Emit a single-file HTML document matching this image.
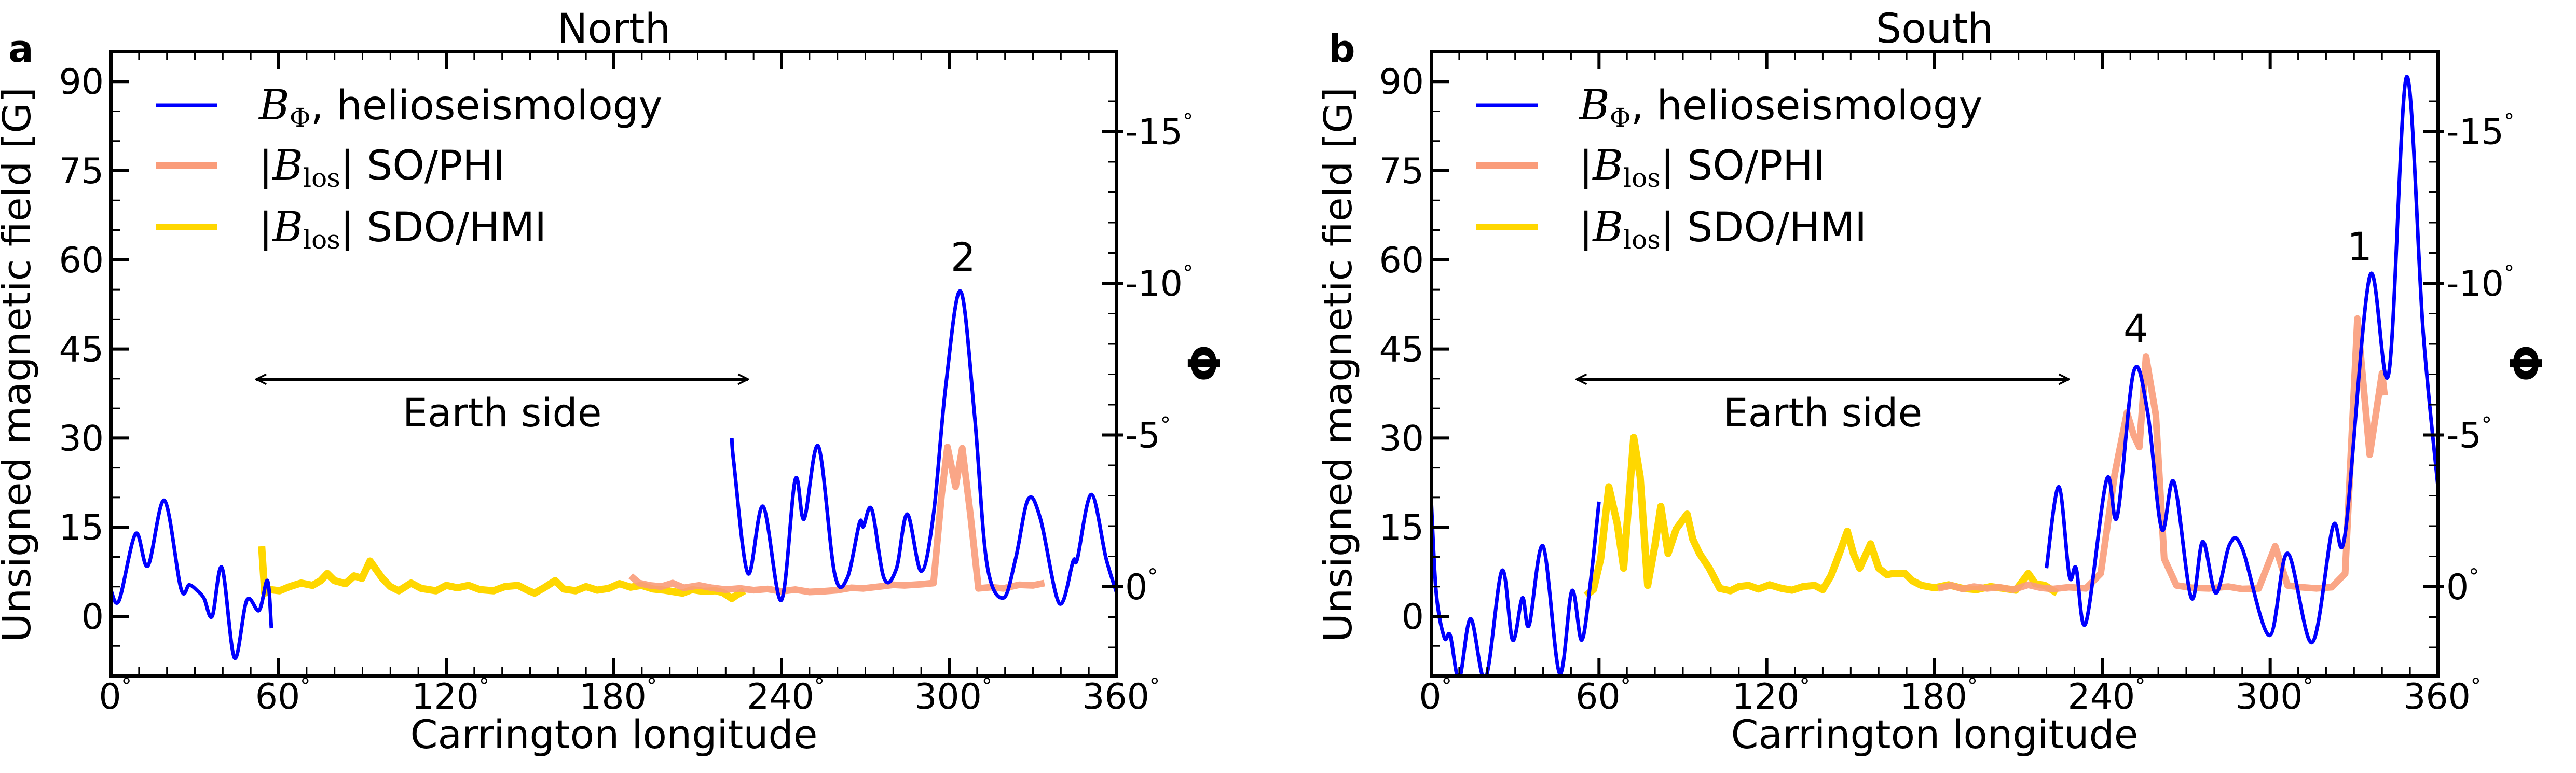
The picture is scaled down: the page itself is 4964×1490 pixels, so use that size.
<!DOCTYPE html>
<html><head><meta charset="utf-8">
<style>
html,body{margin:0;padding:0;background:#fff;}
svg{display:block;}
text{font-family:"DejaVu Sans","Liberation Sans",sans-serif;fill:#000;}
</style></head>
<body>
<svg id="chart" width="4964" height="1490" viewBox="0 0 4964 1490" xmlns="http://www.w3.org/2000/svg">
<defs>
<clipPath id="clipA"><rect x="214" y="99" width="1938" height="1204"/></clipPath>
<clipPath id="clipB"><rect x="2758" y="99" width="1940" height="1204"/></clipPath>
<marker id="arrow" viewBox="0 0 20 20" refX="18" refY="10" markerWidth="24" markerHeight="24" markerUnits="userSpaceOnUse" orient="auto-start-reverse"><path d="M2,2 L18,10 L2,18" fill="none" stroke="#000" stroke-width="3"/></marker>
</defs>
<g id="root"></g>
</svg>
<script>
// ---- data: North panel ----
const northBlueLon1 = [0,2.9,8.8,13.2,19.1,25,28,30.9,33.3,36.2,39.7,44.2,48.6,53,56,57.4];
const northBlueVal1 = [4.3,2.7,13.9,8.5,19.5,4.7,5.3,4.3,3,0,8.2,-7,2.7,1,6,-2];
const northBlueLon2 = [222.2,223,228,233.4,239.9,244.9,248.1,253.2,259,263.5,267.9,269.3,272.3,276.7,281.1,285,290,294.4,298.8,304.1,309.1,313.5,319.4,323.8,328.3,332.7,339.4,344.4,345.9,350.9,356.2,360];
const northBlueVal2 = [30,25.5,7.2,18.5,2.7,23,16.4,28.6,7.2,6.4,15.7,15.1,18,6.4,8,17.2,7.6,17.2,38.8,54.7,33.8,8.9,3.1,9.7,19.7,16.4,2.2,9.3,9.7,20.5,9.7,3.9];
const northPhiLon = [186,189,192.8,197,201,205,210.5,215,220,225.2,230,235,239.9,245,250,254.6,260,265,269.3,275,280,284,290,294.4,297.3,299.4,302.3,304.7,307.6,310.5,315,319.4,325,330,334.1];
const northPhiVal = [6.8,5.6,5.2,5.0,5.6,4.8,5.2,4.8,4.5,4.7,4.4,4.6,4.2,4.5,4.1,4.2,4.4,4.8,4.7,5.0,5.3,5.2,5.4,5.6,20.5,28.5,21.8,28.3,17.2,4.7,4.9,4.7,5.3,5.2,5.6];
const northHmiLon = [53.9,55,57,60.3,64,68,72.1,75,77.4,80,83.9,87,89.8,92.7,95,97.1,100,103,107.4,111,116.3,120,124,128,132,136.9,141,145.7,149,151.6,155,159,162,166.3,170,174,178.1,182,186,189.9,194,198,204.6,208,212,216.4,219,222.2,224,226.7];
const northHmiVal = [11.8,3.9,4.5,4.3,5.0,5.6,5.2,6.0,7.2,6.0,5.5,6.8,6.4,9.3,7.8,6.4,5.0,4.3,5.6,4.7,4.3,5.2,4.8,5.2,4.5,4.3,5.0,5.2,4.4,3.9,4.8,6.0,4.6,4.3,5.0,4.4,4.7,5.5,4.9,5.2,4.6,4.4,3.9,4.5,4.2,4.3,4.0,3.0,3.6,4.3];
// ---- data: South panel ----
const southBlueLon1 = [0,1.8,4.7,6.8,10,14.1,19.4,25.3,29.1,32.6,35,40,45.9,50.3,53.8,57,60];
const southBlueVal1 = [19.7,3.9,-3.6,-3.2,-10.5,-0.4,-10.5,7.7,-4,3.1,-1.5,11.8,-9.6,4.3,-4,6,19.3];
const southBlueLon2 = [220,224.4,228.2,230.6,234.1,241.5,245.3,251.2,256.2,261.2,265.6,271.8,275.9,280.6,285.6,290,299.7,306.2,315,322.4,326.8,335.6,342.4,348.8,354.7,360];
const southBlueVal2 = [8.1,21.8,6.8,8.1,-1.1,23,16.8,41.2,34.3,14.7,22.6,3.1,12.6,3.9,12.2,11.4,-3.2,10.6,-4.4,15.1,13.9,57.2,40.9,90.8,48,21.8];
const southPhiLon = [181.2,186,190,194,198.8,203,208,213.5,218,222.4,228,234.1,239.4,244.4,248.8,251.2,253.2,255.6,259.1,262.1,266.5,272,278.2,285,290,295.9,301.8,306.2,311,316.5,322,326.8,331.2,335.6,340,340.9];
const southPhiVal = [4.7,5.2,4.6,5.0,4.7,4.9,4.5,5.3,4.8,4.6,4.9,4.7,7.2,23.9,34.3,30.5,28.5,43.7,33.9,9.7,5.2,4.8,4.7,5.0,4.6,4.7,11.8,5.2,4.9,4.7,4.9,7.2,50.1,27.2,40.9,37.2];
const southHmiLon = [55.3,58,60.6,63.5,66.5,68.8,72.4,74.7,77.4,80,82.1,84.7,87.6,91.5,93.5,95.9,99.4,103.2,107,110,113.5,117,121,125.3,129,133,137.1,140,142.9,145.5,148.8,151,153.2,157.1,160,163,165,169.4,172,175.3,180,185,190,195,200,204.7,209,213.5,216,219.4,223.8];
const southHmiVal = [3.5,4.5,9.7,21.8,15.6,8.1,30.1,23.5,5.2,12,18.5,10.6,14.7,17.2,13,10.6,8.1,4.7,4.3,5.0,5.2,4.6,5.3,4.7,4.4,5.0,5.2,4.5,6.8,10,14.3,10.5,8.1,12.2,8.1,7.0,7.2,7.2,6.0,5.2,4.8,5.3,4.7,4.5,5.0,4.7,4.4,7.2,5.5,5.2,3.9];
// ---- axis tick data ----
const xTickVals = [0,60,120,180,240,300,360];
const yTickVals = [0,15,30,45,60,75,90];
const phiTickVals = [0,-5,-10,-15];

const NS="http://www.w3.org/2000/svg";
const root=document.getElementById('root');
function mk(tag,attrs,parent){const e=document.createElementNS(NS,tag);for(const k in attrs)e.setAttribute(k,attrs[k]);(parent||root).appendChild(e);return e;}

function smoothPath(pts){
  if(pts.length<2)return '';
  let d='M'+pts[0][0].toFixed(1)+','+pts[0][1].toFixed(1);
  for(let i=0;i<pts.length-1;i++){
    const p0=pts[Math.max(0,i-1)],p1=pts[i],p2=pts[i+1],p3=pts[Math.min(pts.length-1,i+2)];
    const c1=[p1[0]+(p2[0]-p0[0])/6,p1[1]+(p2[1]-p0[1])/6];
    const c2=[p2[0]-(p3[0]-p1[0])/6,p2[1]-(p3[1]-p1[1])/6];
    d+=' C'+c1[0].toFixed(1)+','+c1[1].toFixed(1)+' '+c2[0].toFixed(1)+','+c2[1].toFixed(1)+' '+p2[0].toFixed(1)+','+p2[1].toFixed(1);
  }
  return d;
}
function linePath(pts){return pts.map((p,i)=>(i?'L':'M')+p[0].toFixed(1)+','+p[1].toFixed(1)).join(' ');}

function panel(cfg){
  const L=cfg.left,R=cfg.right,T=99,B=1303;
  const xs=v=>L+(v/360)*(R-L);
  const ys=v=>1188-(v/15)*171.8;
  const ps=d=>1131+d*58.5;
  const g=mk('g',{});
  
  
  const plot=mk('g',{'clip-path':'url(#'+cfg.clip+')'},g);
  
  
  function series(lon,val,color,w,smooth,nm,op){
    const pts=lon.map((x,i)=>[xs(x),ys(val[i])]);
    const p=mk('path',{d:smooth?smoothPath(pts):linePath(pts),fill:'none',stroke:color,'stroke-width':w,'stroke-linejoin':'round','stroke-linecap':'butt',opacity:op||1},plot);
    
    
  }
  series(cfg.hmiLon,cfg.hmiVal,'#ffd700',14,false,cfg.name+'-sdo-hmi-line');
  series(cfg.phiLon,cfg.phiVal,'#fa9c7a',13,false,cfg.name+'-so-phi-line',0.9);
  series(cfg.b1Lon,cfg.b1Val,'#0000ff',7,true,cfg.name+'-helioseismology-line-1');
  series(cfg.b2Lon,cfg.b2Val,'#0000ff',7,true,cfg.name+'-helioseismology-line-2');
  const fr=mk('rect',{x:L,y:T,width:R-L,height:B-T,fill:'none',stroke:'#000','stroke-width':6},g);
  
  
  for(let v=0;v<=360;v+=10){
    const maj=v%60===0,len=maj?34:17,x=xs(v);
    mk('line',{x1:x,x2:x,y1:B,y2:B-len,stroke:'#000','stroke-width':maj?6:3},g);
    mk('line',{x1:x,x2:x,y1:T,y2:T+len,stroke:'#000','stroke-width':maj?6:3},g);
  }
  xTickVals.forEach(v=>{
    const t=mk('text',{x:xs(v)+8,y:1366,'font-size':68,'text-anchor':'middle'},g);
    t.textContent=v;
    const s=mk('tspan',{'font-size':40,dy:-30},t);s.textContent='°';
    
    
  });
  for(let v=-5;v<=95;v+=5){
    const maj=v%15===0,len=maj?34:17,y=ys(v);
    if(y<T||y>B)continue;
    mk('line',{x1:L,x2:L+len,y1:y,y2:y,stroke:'#000','stroke-width':maj?6:3},g);
  }
  yTickVals.forEach(v=>{
    const t=mk('text',{x:L-14,y:ys(v)+24,'font-size':68,'text-anchor':'end'},g);
    t.textContent=v;
    
    
  });
  for(let d=2;d>=-16;d--){
    const maj=d%5===0,y=ps(d);
    if(y<T||y>B)continue;
    mk('line',{x1:maj?R-28:R-17,x2:maj?R+12:R,y1:y,y2:y,stroke:'#000','stroke-width':maj?6:3},g);
  }
  phiTickVals.forEach(d=>{
    const t=mk('text',{x:R+16,y:ps(d)+24,'font-size':68},g);
    t.textContent=d===0?'0':('-'+Math.abs(d));
    const s=mk('tspan',{'font-size':40,dy:-30},t);s.textContent='°';
    
    
  });
  const cx=(L+R)/2;
  const title=mk('text',{x:cx,y:82,'font-size':78,'text-anchor':'middle'},g);title.textContent=cfg.title;
  
  const pl=mk('text',{x:cfg.letterX,y:119,'font-size':72,'font-weight':'bold'},g);pl.textContent=cfg.letter;
  
  const xl=mk('text',{x:cx,y:1442,'font-size':76,'text-anchor':'middle'},g);xl.textContent='Carrington longitude';
  
  const yl=mk('text',{x:0,y:0,'font-size':74,'text-anchor':'middle',textLength:1070,lengthAdjust:'spacingAndGlyphs',transform:'translate('+(cfg.ylabX+26)+',703) rotate(-90)'},g);
  yl.textContent='Unsigned magnetic field [G]';
  
  const phl=mk('text',{x:0,y:0,'font-size':84,'text-anchor':'middle','font-family':'DejaVu Serif, serif','font-weight':'bold',transform:'translate('+(cfg.phiX+28)+',700) rotate(-90)'},g);
  phl.textContent='Φ';
  
  const ar=mk('line',{x1:xs(52),x2:xs(228),y1:731,y2:731,stroke:'#000','stroke-width':6,'marker-start':'url(#arrow)','marker-end':'url(#arrow)'},g);
  
  const es=mk('text',{x:xs(140),y:822,'font-size':76,'text-anchor':'middle'},g);es.textContent='Earth side';
  
  cfg.annots.forEach(a=>{
    const t=mk('text',{x:xs(a[0]),y:a[1],'font-size':76,'text-anchor':'middle'},g);t.textContent=a[2];
    
  });
  const lg=mk('g',{},g);
  
  const lx=L+87;
  const items=[['#0000ff',7,203,'helio'],['#fa9c7a',12,319,'phi'],['#ffd700',12,438,'hmi']];
  items.forEach(it=>{
    const ln=mk('line',{x1:lx,x2:lx+118,y1:it[2],y2:it[2],stroke:it[0],'stroke-width':it[1]},lg);
    
  });
  const tx=lx+198;
  let t=mk('text',{x:tx,y:230,'font-size':78},lg);
  let s=mk('tspan',{'font-family':'DejaVu Serif, serif','font-style':'italic','font-size':80},t);s.textContent='B';
  s=mk('tspan',{'font-family':'DejaVu Serif, serif','font-size':50,dy:14},t);s.textContent='Φ';
  s=mk('tspan',{dy:-14},t);s.textContent=', helioseismology';
  
  [['SO/PHI',346,'so-phi'],['SDO/HMI',465,'sdo-hmi']].forEach(e=>{
    const tt=mk('text',{x:tx,y:e[1],'font-size':78},lg);
    let a=mk('tspan',{'font-family':'DejaVu Serif, serif'},tt);a.textContent='|';
    a=mk('tspan',{'font-family':'DejaVu Serif, serif','font-style':'italic','font-size':80},tt);a.textContent='B';
    a=mk('tspan',{'font-family':'DejaVu Serif, serif','font-size':50,dy:14},tt);a.textContent='los';
    a=mk('tspan',{'font-family':'DejaVu Serif, serif',dy:-14},tt);a.textContent='| ';
    a=mk('tspan',{},tt);a.textContent=e[0];
    
  });
}

panel({name:'north',title:'North',letter:'a',letterX:16,left:214,right:2152,clip:'clipA',ylabX:32,phiX:2322,
  b1Lon:northBlueLon1,b1Val:northBlueVal1,b2Lon:northBlueLon2,b2Val:northBlueVal2,
  phiLon:northPhiLon,phiVal:northPhiVal,hmiLon:northHmiLon,hmiVal:northHmiVal,
  annots:[[305,522,'2']]});
panel({name:'south',title:'South',letter:'b',letterX:2560,left:2758,right:4698,clip:'clipB',ylabX:2578,phiX:4870,
  b1Lon:southBlueLon1,b1Val:southBlueVal1,b2Lon:southBlueLon2,b2Val:southBlueVal2,
  phiLon:southPhiLon,phiVal:southPhiVal,hmiLon:southHmiLon,hmiVal:southHmiVal,
  annots:[[252,660,'4'],[332,502,'1']]});
</script>
</body></html>
